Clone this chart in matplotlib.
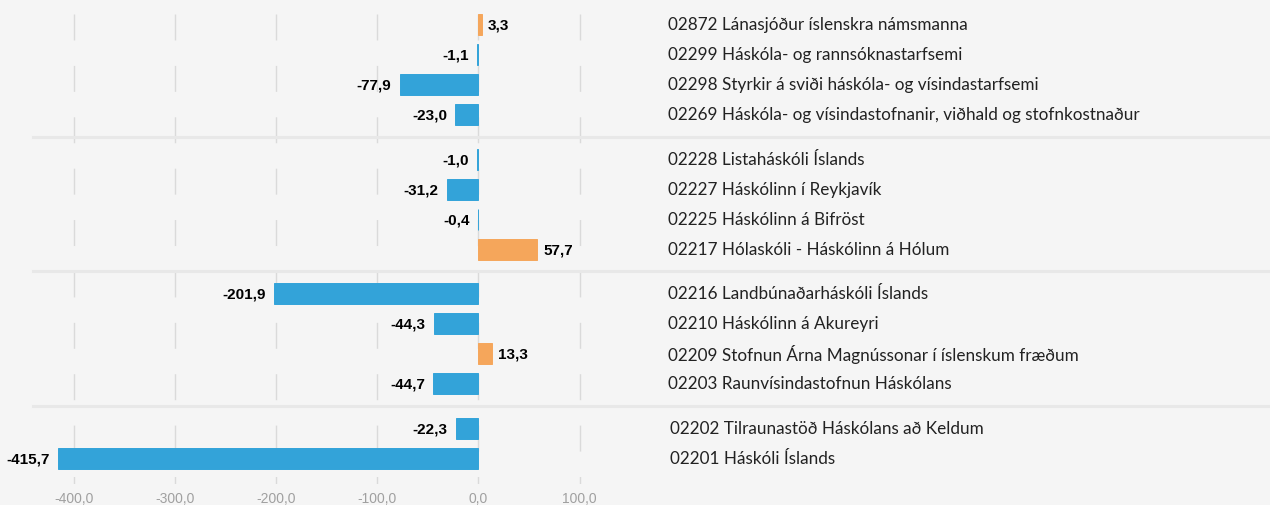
import matplotlib
matplotlib.use("Agg")
import matplotlib.pyplot as plt
from matplotlib.lines import Line2D
from matplotlib.transforms import blended_transform_factory

# ---------------- data ----------------
group1_labels = ["02872 Lánasjóður íslenskra námsmanna",
                 "02299 Háskóla- og rannsóknastarfsemi",
                 "02298 Styrkir á sviði háskóla- og vísindastarfsemi",
                 "02269 Háskóla- og vísindastofnanir, viðhald og stofnkostnaður"]
group1_values = [3.3, -1.1, -77.9, -23.0]

group2_labels = ["02228 Listaháskóli Íslands",
                 "02227 Háskólinn í Reykjavík",
                 "02225 Háskólinn á Bifröst",
                 "02217 Hólaskóli - Háskólinn á Hólum"]
group2_values = [-1.0, -31.2, -0.4, 57.7]

group3_labels = ["02216 Landbúnaðarháskóli Íslands",
                 "02210 Háskólinn á Akureyri",
                 "02209 Stofnun Árna Magnússonar í íslenskum fræðum",
                 "02203 Raunvísindastofnun Háskólans"]
group3_values = [-201.9, -44.3, 13.3, -44.7]

group4_labels = ["02202 Tilraunastöð Háskólans að Keldum",
                 "02201 Háskóli Íslands"]
group4_values = [-22.3, -415.7]

x_ticks = [-400, -300, -200, -100, 0, 100]

groups = [(group1_labels, group1_values), (group2_labels, group2_values),
          (group3_labels, group3_values), (group4_labels, group4_values)]

# ---------------- style ----------------
BG = "#f5f5f5"
BLUE = "#33a3d9"
ORANGE = "#f5a65b"
GRID = "#dadada"
SEP = "#e8e8e8"

W, H = 1270, 506
fig = plt.figure(figsize=(W / 100, H / 100), dpi=100, facecolor=BG)

zero_px = 478.5
px_per_unit = 1.012
ax_left_px, ax_right_px = 33, 640
ax_top_px, ax_bot_px = 15, 485
ax = fig.add_axes([ax_left_px / W, 1 - ax_bot_px / H,
                   (ax_right_px - ax_left_px) / W, (ax_bot_px - ax_top_px) / H])
ax.set_facecolor(BG)
ax.set_xlim((ax_left_px - zero_px) / px_per_unit, (ax_right_px - zero_px) / px_per_unit)

gap = 0.49
positions, values, labels, group_bounds = [], [], [], []
k = 0
for g, (labs, vals) in enumerate(groups):
    start = k + g * gap
    for lab, v in zip(labs, vals):
        positions.append(k + g * gap)
        values.append(v)
        labels.append(lab)
        k += 1
    group_bounds.append((start, k - 1 + g * gap))

ax.set_ylim(positions[-1] + 0.85, -0.35)

for s in ax.spines.values():
    s.set_visible(False)

# dashed vertical gridlines (start at top)
xt = blended_transform_factory(ax.transData, ax.transAxes)
for t in x_ticks:
    ln = Line2D([t, t], [1, 0], transform=xt, color=GRID, lw=1.0, zorder=0)
    ln.set_dashes((18.7, 18.3))
    ax.add_line(ln)

colors = [ORANGE if v > 0 else BLUE for v in values]
ax.barh(positions, values, height=0.7, color=colors, edgecolor=colors,
        linewidth=0.7, zorder=2)

for p, v in zip(positions, values):
    txt = f"{v:.1f}".replace(".", ",")
    if v >= 0:
        ax.annotate(txt, (v, p), xytext=(4.5, 0), textcoords="offset points",
                    ha="left", va="center", fontsize=11, fontweight="bold",
                    family="Liberation Sans", color="#000000")
    else:
        ax.annotate(txt, (v, p), xytext=(-6, 0), textcoords="offset points",
                    ha="right", va="center", fontsize=11, fontweight="bold",
                    family="Liberation Sans", color="#000000", annotation_clip=False)

# category labels at right
lt = blended_transform_factory(fig.transFigure, ax.transData)
idx = 0
for gi, (labs, vals) in enumerate(groups):
    xpx = 670 if gi == 3 else 668
    for lab in labs:
        ax.text(xpx / W, positions[idx] - 0.02, lab, transform=lt, ha="left", va="center",
                fontsize=12.3, family="Lato", color="#222222", clip_on=False)
        idx += 1

# group separators
for (a0, a1), (b0, b1) in zip(group_bounds[:-1], group_bounds[1:]):
    ymid = (a1 + b0) / 2
    fig.add_artist(Line2D([33 / W, 1.0], [ymid, ymid], transform=lt, color=SEP, lw=2.2, zorder=1))

ax.set_xticks(x_ticks)
ax.set_xticklabels([f"{t:.1f}".replace(".", ",") for t in x_ticks])
ax.tick_params(axis="x", length=0, pad=5, labelsize=10, labelcolor="#a0a0a0")
for lbl in ax.get_xticklabels():
    lbl.set_family("Liberation Sans")
ax.set_yticks([])

fig.savefig("out.png", dpi=100, facecolor=BG)
